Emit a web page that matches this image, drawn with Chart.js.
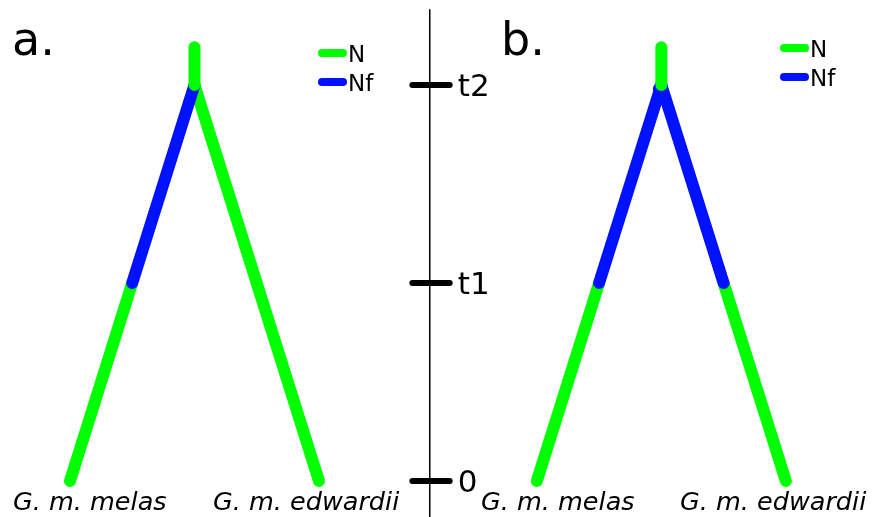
<!DOCTYPE html>
<html>
<head>
<meta charset="utf-8">
<script src="https://cdn.jsdelivr.net/npm/chart.js@4.4.1/dist/chart.umd.min.js"></script>
<style>
  html, body { margin: 0; padding: 0; background: #ffffff; }
  #tree { display: block; }
</style>
</head>
<body>
<canvas id="tree" width="872" height="517"></canvas>
<script>
// Time axis (units of t)
const timeTicks = [0, 1, 2];
const timeLabels = ['0', 't1', 't2'];
const rootTop = 2.19;   // top of the root stem
const splitTime = 2;    // t2: population split
const shiftTime = 1;    // t1: change in Ne

// Tip positions (horizontal layout units)
const tipsA = [0, 2];
const tipsB = [3.75, 5.75];
const taxa = ['G. m. melas', 'G. m. edwardii'];
const axisX = 2.89;

// panel a: only left branch is Nf between t1 and t2
// panel b: both branches are Nf between t1 and t2
const GREEN = '#00ff00';
const BLUE = '#0011ff';

const mid = (a, b) => (a + b) / 2;
const lerpX = (tip, root, t) => tip + (root - tip) * (t / splitTime);

function branch(points, color, width) {
  return {
    data: points,
    showLine: true,
    borderColor: color,
    borderWidth: width || 12,
    borderCapStyle: 'round',
    borderJoinStyle: 'round',
    pointRadius: 0,
    fill: false
  };
}

function treeDatasets(tips, nfLeft, nfRight) {
  const root = mid(tips[0], tips[1]);
  const out = [];
  // stem
  out.push(branch([{ x: root, y: rootTop }, { x: root, y: splitTime }], GREEN));
  const lower = [
    [{ x: tips[0], y: 0 }, { x: lerpX(tips[0], root, shiftTime), y: shiftTime }],
    [{ x: tips[1], y: 0 }, { x: lerpX(tips[1], root, shiftTime), y: shiftTime }]
  ];
  const upper = [
    [{ x: lerpX(tips[0], root, shiftTime), y: shiftTime }, { x: root, y: splitTime }],
    [{ x: lerpX(tips[1], root, shiftTime), y: shiftTime }, { x: root, y: splitTime }]
  ];
  const nf = [nfLeft, nfRight];
  // blue pieces first, green drawn over
  [0, 1].forEach(i => { if (nf[i]) out.push(branch(upper[i], BLUE)); });
  [0, 1].forEach(i => { out.push(branch(lower[i], GREEN)); });
  [0, 1].forEach(i => { if (!nf[i]) out.push(branch(upper[i], GREEN)); });
  return out;
}

const datasets = [
  ...treeDatasets(tipsA, true, false),
  ...treeDatasets(tipsB, true, true)
];
// in panel b the blue junction sits on top of the stem
datasets.push(branch([{ x: mid(tipsB[0], tipsB[1]) - 0.02, y: splitTime - 0.02 }, { x: mid(tipsB[0], tipsB[1]), y: splitTime }], BLUE));

// time axis line and tick marks
datasets.push(branch([{ x: axisX, y: -0.2 }, { x: axisX, y: 2.38 }], '#000000', 1.5));
timeTicks.forEach(t => {
  datasets.push(branch([{ x: axisX - 0.14, y: t }, { x: axisX + 0.16, y: t }], '#000000', 6));
});

const FONT = '"DejaVu Sans", Verdana, sans-serif';

const annotations = {
  id: 'annotations',
  afterDatasetsDraw(chart) {
    const { ctx, scales } = chart;
    const xs = scales.x, ys = scales.y;
    ctx.save();
    ctx.fillStyle = '#000000';
    ctx.textBaseline = 'alphabetic';

    // panel letters
    ctx.font = '46px ' + FONT;
    ctx.fillText('a.', 12, 55);
    ctx.fillText('b.', 501, 55);

    // tick labels
    ctx.font = '31px ' + FONT;
    timeTicks.forEach((t, i) => {
      ctx.fillText(timeLabels[i], xs.getPixelForValue(axisX) + 28, ys.getPixelForValue(t) + 11);
    });

    // taxa labels
    ctx.font = 'italic 25.5px ' + FONT;
    ctx.fillText(taxa[0], 13, 510);
    ctx.fillText(taxa[1], 213, 510);
    ctx.fillText(taxa[0], 481, 510);
    ctx.fillText(taxa[1], 680, 510);

    // legends
    const legends = [{ x: 322, y: 53 }, { x: 784, y: 48 }];
    ctx.lineCap = 'round';
    ctx.lineWidth = 8;
    ctx.font = '23px ' + FONT;
    legends.forEach(l => {
      [[GREEN, 'N', 0], [BLUE, 'Nf', 29]].forEach(([c, label, dy]) => {
        ctx.strokeStyle = c;
        ctx.beginPath();
        ctx.moveTo(l.x, l.y + dy);
        ctx.lineTo(l.x + 21, l.y + dy);
        ctx.stroke();
        ctx.fillStyle = '#000000';
        ctx.fillText(label, l.x + 26, l.y + dy + 9);
      });
    });
    ctx.restore();
  }
};

new Chart(document.getElementById('tree'), {
  type: 'scatter',
  data: { datasets },
  options: {
    responsive: false,
    animation: false,
    layout: { padding: 0 },
    plugins: { legend: { display: false }, tooltip: { enabled: false } },
    scales: {
      x: { type: 'linear', display: false, min: -0.562, max: 6.442 },
      y: { type: 'linear', display: false, min: -0.182, max: 2.429 }
    }
  },
  plugins: [annotations]
});
</script>
</body>
</html>
